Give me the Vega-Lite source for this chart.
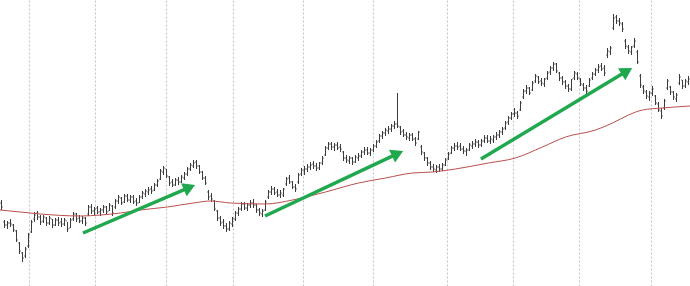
{
"$schema":"https://vega.github.io/schema/vega-lite/v6.json",
"width":690,"height":286,"padding":0,"autosize":{"type":"none"},
"background":"white",
"config":{"view":{"stroke":null},"axisX":{"grid":true,"gridDash":[2,2],"gridColor":"#c4c4c4","gridWidth":1,"labels":false,"ticks":false,"domain":false}},
"datasets":{
"px":[
{"d":0,"h":200,"l":210,"o":203,"c":207},{"d":1,"h":220,"l":228,"o":222,"c":225},{"d":2,"h":221,"l":229,"o":225,"c":223},{"d":3,"h":219,"l":227,"o":223,"c":224},{"d":4,"h":224,"l":232,"o":225,"c":230},{"d":5,"h":230,"l":242,"o":231,"c":240},{"d":6,"h":242,"l":254,"o":243,"c":251},{"d":7,"h":252,"l":262,"o":253,"c":258},{"d":8,"h":247,"l":258,"o":256,"c":249},{"d":9,"h":233,"l":248,"o":246,"c":235},
{"d":10,"h":220,"l":233,"o":232,"c":222},{"d":11,"h":212,"l":222,"o":219,"c":215},{"d":12,"h":211,"l":220,"o":213,"c":217},{"d":13,"h":215,"l":225,"o":217,"c":222},{"d":14,"h":215,"l":223,"o":221,"c":217},{"d":15,"h":217,"l":226,"o":218,"c":223},{"d":16,"h":216,"l":225,"o":223,"c":218},{"d":17,"h":219,"l":228,"o":219,"c":225},{"d":18,"h":218,"l":226,"o":225,"c":220},{"d":19,"h":217,"l":226,"o":220,"c":223},
{"d":20,"h":218,"l":227,"o":222,"c":224},{"d":21,"h":218,"l":226,"o":224,"c":220},{"d":22,"h":222,"l":232,"o":221,"c":229},{"d":23,"h":218,"l":228,"o":228,"c":220},{"d":24,"h":212,"l":221,"o":219,"c":214},{"d":25,"h":213,"l":222,"o":214,"c":219},{"d":26,"h":215,"l":223,"o":218,"c":221},{"d":27,"h":216,"l":224,"o":221,"c":218},{"d":28,"h":217,"l":226,"o":218,"c":223},{"d":29,"h":205,"l":216,"o":214,"c":207},
{"d":30,"h":204,"l":214,"o":207,"c":211},{"d":31,"h":207,"l":215,"o":211,"c":209},{"d":32,"h":206,"l":214,"o":208,"c":212},{"d":33,"h":208,"l":216,"o":212,"c":210},{"d":34,"h":205,"l":213,"o":210,"c":207},{"d":35,"h":206,"l":215,"o":207,"c":212},{"d":36,"h":203,"l":211,"o":211,"c":205},{"d":37,"h":205,"l":216,"o":206,"c":213},{"d":38,"h":199,"l":209,"o":207,"c":201},{"d":39,"h":195,"l":204,"o":201,"c":197},
{"d":40,"h":197,"l":205,"o":198,"c":203},{"d":41,"h":194,"l":203,"o":202,"c":196},{"d":42,"h":194,"l":202,"o":196,"c":200},{"d":43,"h":195,"l":203,"o":200,"c":197},{"d":44,"h":195,"l":204,"o":197,"c":202},{"d":45,"h":198,"l":206,"o":201,"c":203},{"d":46,"h":195,"l":203,"o":203,"c":197},{"d":47,"h":191,"l":199,"o":197,"c":193},{"d":48,"h":189,"l":197,"o":194,"c":191},{"d":49,"h":187,"l":195,"o":192,"c":190},
{"d":50,"h":186,"l":194,"o":189,"c":191},{"d":51,"h":183,"l":191,"o":190,"c":185},{"d":52,"h":179,"l":187,"o":185,"c":181},{"d":53,"h":169,"l":180,"o":179,"c":171},{"d":54,"h":166,"l":175,"o":172,"c":168},{"d":55,"h":169,"l":178,"o":169,"c":176},{"d":56,"h":176,"l":186,"o":177,"c":183},{"d":57,"h":179,"l":187,"o":182,"c":185},{"d":58,"h":178,"l":186,"o":185,"c":180},{"d":59,"h":177,"l":185,"o":180,"c":182},
{"d":60,"h":175,"l":183,"o":182,"c":177},{"d":61,"h":172,"l":180,"o":178,"c":174},{"d":62,"h":167,"l":176,"o":174,"c":169},{"d":63,"h":163,"l":171,"o":169,"c":165},{"d":64,"h":160,"l":168,"o":166,"c":163},{"d":65,"h":160,"l":169,"o":162,"c":166},{"d":66,"h":165,"l":174,"o":166,"c":172},{"d":67,"h":171,"l":180,"o":172,"c":178},{"d":68,"h":176,"l":185,"o":178,"c":183},{"d":69,"h":190,"l":200,"o":192,"c":197},
{"d":70,"h":193,"l":202,"o":196,"c":199},{"d":71,"h":200,"l":211,"o":201,"c":209},{"d":72,"h":210,"l":221,"o":211,"c":218},{"d":73,"h":216,"l":226,"o":218,"c":223},{"d":74,"h":219,"l":229,"o":222,"c":226},{"d":75,"h":223,"l":232,"o":226,"c":229},{"d":76,"h":221,"l":231,"o":229,"c":223},{"d":77,"h":217,"l":227,"o":224,"c":219},{"d":78,"h":211,"l":221,"o":219,"c":213},{"d":79,"h":207,"l":216,"o":213,"c":209},
{"d":80,"h":202,"l":211,"o":209,"c":204},{"d":81,"h":202,"l":210,"o":204,"c":208},{"d":82,"h":203,"l":211,"o":208,"c":205},{"d":83,"h":200,"l":208,"o":205,"c":203},{"d":84,"h":199,"l":208,"o":203,"c":205},{"d":85,"h":204,"l":213,"o":205,"c":210},{"d":86,"h":208,"l":216,"o":210,"c":213},{"d":87,"h":209,"l":217,"o":214,"c":211},{"d":88,"h":200,"l":211,"o":210,"c":202},{"d":89,"h":190,"l":199,"o":197,"c":192},
{"d":90,"h":186,"l":195,"o":192,"c":189},{"d":91,"h":187,"l":195,"o":189,"c":193},{"d":92,"h":189,"l":197,"o":192,"c":195},{"d":93,"h":190,"l":198,"o":195,"c":193},{"d":94,"h":188,"l":197,"o":195,"c":189},{"d":95,"h":177,"l":186,"o":184,"c":179},{"d":96,"h":175,"l":184,"o":178,"c":182},{"d":97,"h":181,"l":189,"o":182,"c":187},{"d":98,"h":184,"l":192,"o":187,"c":189},{"d":99,"h":173,"l":184,"o":182,"c":175},
{"d":100,"h":168,"l":176,"o":174,"c":170},{"d":101,"h":166,"l":175,"o":171,"c":169},{"d":102,"h":164,"l":172,"o":169,"c":167},{"d":103,"h":162,"l":170,"o":167,"c":165},{"d":104,"h":161,"l":169,"o":164,"c":166},{"d":105,"h":163,"l":171,"o":166,"c":168},{"d":106,"h":162,"l":170,"o":168,"c":163},{"d":107,"h":156,"l":165,"o":163,"c":158},{"d":108,"h":146,"l":156,"o":155,"c":148},{"d":109,"h":142,"l":150,"o":148,"c":144},
{"d":110,"h":142,"l":150,"o":144,"c":147},{"d":111,"h":143,"l":151,"o":147,"c":145},{"d":112,"h":142,"l":150,"o":145,"c":148},{"d":113,"h":144,"l":152,"o":147,"c":149},{"d":114,"h":151,"l":161,"o":152,"c":158},{"d":115,"h":155,"l":163,"o":158,"c":160},{"d":116,"h":156,"l":164,"o":161,"c":158},{"d":117,"h":157,"l":165,"o":158,"c":162},{"d":118,"h":155,"l":163,"o":162,"c":157},{"d":119,"h":153,"l":161,"o":158,"c":156},
{"d":120,"h":150,"l":158,"o":156,"c":152},{"d":121,"h":147,"l":155,"o":152,"c":150},{"d":122,"h":147,"l":155,"o":150,"c":153},{"d":123,"h":148,"l":156,"o":153,"c":150},{"d":124,"h":144,"l":152,"o":150,"c":146},{"d":125,"h":140,"l":148,"o":146,"c":142},{"d":126,"h":134,"l":143,"o":141,"c":136},{"d":127,"h":131,"l":139,"o":136,"c":133},{"d":128,"h":128,"l":136,"o":133,"c":130},{"d":129,"h":126,"l":134,"o":131,"c":129},
{"d":130,"h":124,"l":132,"o":129,"c":126},{"d":131,"h":121,"l":129,"o":126,"c":124},{"d":132,"h":93,"l":128,"o":124,"c":126},{"d":133,"h":126,"l":135,"o":127,"c":132},{"d":134,"h":129,"l":137,"o":131,"c":135},{"d":135,"h":132,"l":140,"o":135,"c":137},{"d":136,"h":133,"l":141,"o":138,"c":135},{"d":137,"h":133,"l":141,"o":135,"c":139},{"d":138,"h":137,"l":146,"o":139,"c":143},{"d":139,"h":131,"l":140,"o":139,"c":132},
{"d":140,"h":145,"l":155,"o":147,"c":152},{"d":141,"h":152,"l":161,"o":153,"c":158},{"d":142,"h":157,"l":166,"o":158,"c":163},{"d":143,"h":161,"l":170,"o":163,"c":167},{"d":144,"h":164,"l":172,"o":167,"c":169},{"d":145,"h":165,"l":173,"o":170,"c":167},{"d":146,"h":164,"l":172,"o":167,"c":169},{"d":147,"h":163,"l":171,"o":169,"c":165},{"d":148,"h":158,"l":166,"o":165,"c":160},{"d":149,"h":152,"l":160,"o":159,"c":154},
{"d":150,"h":146,"l":154,"o":153,"c":148},{"d":151,"h":143,"l":151,"o":148,"c":146},{"d":152,"h":142,"l":150,"o":146,"c":147},{"d":153,"h":143,"l":151,"o":146,"c":149},{"d":154,"h":146,"l":154,"o":149,"c":151},{"d":155,"h":148,"l":156,"o":151,"c":150},{"d":156,"h":143,"l":151,"o":150,"c":145},{"d":157,"h":141,"l":149,"o":146,"c":144},{"d":158,"h":139,"l":147,"o":144,"c":142},{"d":159,"h":140,"l":148,"o":142,"c":145},
{"d":160,"h":139,"l":147,"o":145,"c":141},{"d":161,"h":135,"l":143,"o":141,"c":138},{"d":162,"h":135,"l":143,"o":138,"c":141},{"d":163,"h":136,"l":144,"o":141,"c":139},{"d":164,"h":135,"l":143,"o":140,"c":137},{"d":165,"h":132,"l":140,"o":137,"c":135},{"d":166,"h":130,"l":138,"o":135,"c":132},{"d":167,"h":127,"l":135,"o":132,"c":129},{"d":168,"h":121,"l":130,"o":128,"c":123},{"d":169,"h":116,"l":125,"o":122,"c":118},
{"d":170,"h":112,"l":120,"o":118,"c":114},{"d":171,"h":108,"l":117,"o":114,"c":113},{"d":172,"h":111,"l":119,"o":113,"c":116},{"d":173,"h":101,"l":111,"o":110,"c":103},{"d":174,"h":89,"l":99,"o":97,"c":91},{"d":175,"h":85,"l":94,"o":91,"c":88},{"d":176,"h":87,"l":95,"o":88,"c":93},{"d":177,"h":81,"l":91,"o":90,"c":83},{"d":178,"h":74,"l":83,"o":81,"c":76},{"d":179,"h":76,"l":84,"o":77,"c":82},
{"d":180,"h":78,"l":86,"o":81,"c":83},{"d":181,"h":78,"l":87,"o":84,"c":79},{"d":182,"h":71,"l":80,"o":78,"c":73},{"d":183,"h":66,"l":75,"o":72,"c":68},{"d":184,"h":62,"l":71,"o":68,"c":64},{"d":185,"h":63,"l":73,"o":64,"c":71},{"d":186,"h":72,"l":81,"o":73,"c":78},{"d":187,"h":76,"l":85,"o":78,"c":82},{"d":188,"h":80,"l":89,"o":82,"c":86},{"d":189,"h":84,"l":92,"o":86,"c":89},
{"d":190,"h":79,"l":91,"o":89,"c":79},{"d":191,"h":71,"l":80,"o":78,"c":73},{"d":192,"h":72,"l":80,"o":74,"c":78},{"d":193,"h":78,"l":86,"o":79,"c":84},{"d":194,"h":83,"l":91,"o":85,"c":88},{"d":195,"h":85,"l":94,"o":88,"c":91},{"d":196,"h":78,"l":87,"o":86,"c":80},{"d":197,"h":72,"l":80,"o":78,"c":74},{"d":198,"h":68,"l":76,"o":74,"c":70},{"d":199,"h":64,"l":73,"o":70,"c":67},
{"d":200,"h":63,"l":71,"o":66,"c":69},{"d":201,"h":65,"l":76,"o":68,"c":73},{"d":202,"h":48,"l":58,"o":55,"c":51},{"d":203,"h":46,"l":55,"o":52,"c":48},{"d":204,"h":14,"l":30,"o":28,"c":18},{"d":205,"h":15,"l":24,"o":17,"c":21},{"d":206,"h":18,"l":26,"o":21,"c":23},{"d":207,"h":22,"l":32,"o":24,"c":29},{"d":208,"h":39,"l":49,"o":41,"c":46},{"d":209,"h":45,"l":54,"o":47,"c":51},
{"d":210,"h":46,"l":55,"o":52,"c":47},{"d":211,"h":38,"l":48,"o":46,"c":41},{"d":212,"h":50,"l":64,"o":52,"c":62},{"d":213,"h":74,"l":88,"o":76,"c":85},{"d":214,"h":85,"l":94,"o":87,"c":91},{"d":215,"h":90,"l":99,"o":92,"c":96},{"d":216,"h":91,"l":101,"o":97,"c":93},{"d":217,"h":86,"l":96,"o":93,"c":89},{"d":218,"h":95,"l":105,"o":96,"c":103},{"d":219,"h":102,"l":112,"o":104,"c":110},
{"d":220,"h":108,"l":119,"o":111,"c":116},{"d":221,"h":99,"l":110,"o":108,"c":101},{"d":222,"h":79,"l":90,"o":88,"c":81},{"d":223,"h":86,"l":95,"o":87,"c":92},{"d":224,"h":91,"l":100,"o":92,"c":97},{"d":225,"h":93,"l":102,"o":99,"c":95},{"d":226,"h":74,"l":85,"o":83,"c":77},{"d":227,"h":80,"l":89,"o":80,"c":86},{"d":228,"h":79,"l":88,"o":86,"c":81},{"d":229,"h":76,"l":85,"o":82,"c":79}
],
"ma":[
{"d":-0.5,"m":210},{"d":6.3,"m":212},{"d":13,"m":214},{"d":26.3,"m":216},{"d":33,"m":215},{"d":39.7,"m":213},{"d":46.3,"m":210},{"d":55.3,"m":207},{"d":64,"m":203},{"d":69.7,"m":201},{"d":76.3,"m":203},{"d":88,"m":204},{"d":97,"m":200},{"d":108,"m":192},{"d":119,"m":183},{"d":128,"m":178},{"d":137,"m":173},{"d":143.7,"m":172},{"d":151.3,"m":169},{"d":162.3,"m":163},{"d":171.3,"m":158},{"d":180.3,"m":147},{"d":188,"m":137},{"d":198,"m":130},{"d":203.7,"m":123},{"d":209,"m":115},{"d":213.7,"m":110},{"d":220.3,"m":108},{"d":229.5,"m":106}
],
"arrows":[
{"x1":27.17,"y1":233,"x2":62.67,"y2":187.4,"a":66.8},
{"x1":87.83,"y1":216,"x2":132.03,"y2":153.6,"a":64.8},
{"x1":159.83,"y1":159,"x2":208.47,"y2":71.1,"a":58.9}
]
},
"layer":[
{"data":{"name":"px"},"mark":{"type":"rule","color":"#3c3c3c","strokeWidth":1},
"encoding":{
"x":{"field":"d","type":"quantitative","title":null,"scale":{"domain":[-0.5,229.5],"nice":false,"zero":false},
"axis":{"values":[9.17,20.17,31.17,42.83,54.83,64.83,77.17,88.5,100.5,112.83,123.83,136.83,148.5,159.5,170.5,181.83,192.5,204.17,216.5,226.83],"grid":true,"labels":false,"ticks":false,"domain":false,"title":null}},
"y":{"field":"h","type":"quantitative","title":null,"scale":{"domain":[0,286],"reverse":true,"nice":false,"zero":false},"axis":null},
"y2":{"field":"l"}}},
{"data":{"name":"px"},"mark":{"type":"tick","orient":"horizontal","color":"#3c3c3c","size":1,"thickness":1,"xOffset":-1},
"encoding":{"x":{"field":"d","type":"quantitative","title":null},"y":{"field":"o","type":"quantitative","title":null,"axis":null}}},
{"data":{"name":"px"},"mark":{"type":"tick","orient":"horizontal","color":"#3c3c3c","size":1,"thickness":1,"xOffset":1},
"encoding":{"x":{"field":"d","type":"quantitative","title":null},"y":{"field":"c","type":"quantitative","title":null,"axis":null}}},
{"data":{"name":"ma"},"mark":{"type":"line","color":"#b9504e","strokeWidth":1,"interpolate":"monotone"},
"encoding":{"x":{"field":"d","type":"quantitative","title":null},"y":{"field":"m","type":"quantitative","title":null,"axis":null}}},
{"data":{"name":"arrows"},"mark":{"type":"rule","color":"#1fa84d","strokeWidth":3.5,"strokeCap":"butt"},
"encoding":{"x":{"field":"x1","type":"quantitative","title":null},"y":{"field":"y1","type":"quantitative","title":null,"axis":null},"x2":{"field":"x2"},"y2":{"field":"y2"}}},
{"data":{"name":"arrows"},"mark":{"type":"point","shape":"triangle-up","filled":true,"size":200,"opacity":1,"color":"#1fa84d"},
"encoding":{"x":{"field":"x2","type":"quantitative","title":null},"y":{"field":"y2","type":"quantitative","title":null,"axis":null},"angle":{"field":"a","type":"quantitative","scale":null}}}
]
}
